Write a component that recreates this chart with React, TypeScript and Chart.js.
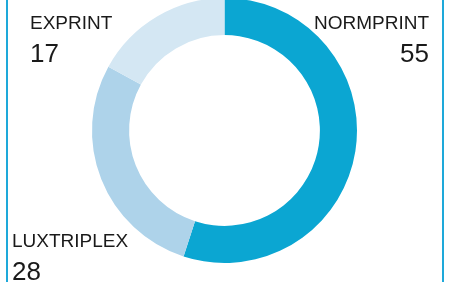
import React, { useEffect, useRef } from "react";
import { Chart, registerables } from "chart.js";

Chart.register(...registerables);

const categories = ["NORMPRINT", "LUXTRIPLEX", "EXPRINT"];
const values = [55, 28, 17];
const colors = ["#0ba6d2", "#aed3ea", "#d4e7f3"];

const labelPlugin = {
  id: "cornerLabels",
  afterDraw(chart: any) {
    const ctx = chart.ctx;
    const area = chart.chartArea;
    const ds = chart.data.datasets[0];
    const labels = chart.data.labels as string[];
    // positions: [x, nameBaseline, align]
    const spots: Record<string, [number, number, CanvasTextAlign]> = {
      NORMPRINT: [area.right - 20, area.top + 31, "right"],
      EXPRINT: [area.left + 30, area.top + 31, "left"],
      LUXTRIPLEX: [area.left + 12, area.top + 249, "left"],
    };
    ctx.save();
    ctx.fillStyle = "#1a1a1a";
    ctx.textBaseline = "alphabetic";
    labels.forEach((name, i) => {
      const s = spots[name];
      if (!s) return;
      ctx.textAlign = s[2];
      ctx.font = "19px 'Liberation Sans', Arial, sans-serif";
      ctx.fillText(name, s[0], s[1]);
      ctx.font = "26px 'Liberation Sans', Arial, sans-serif";
      ctx.fillText(String(ds.data[i]), s[0], s[1] + 33);
    });
    ctx.restore();
  },
};

export default function App() {
  const ref = useRef<HTMLCanvasElement>(null);
  useEffect(() => {
    if (!ref.current) return;
    const chart = new Chart(ref.current, {
      type: "doughnut",
      data: {
        labels: categories,
        datasets: [
          {
            data: values,
            backgroundColor: colors,
            borderWidth: 0,
          },
        ],
      },
      options: {
        animation: false,
        responsive: false,
        cutout: "72%",
        layout: { padding: { right: 9, bottom: 19 } },
        plugins: { legend: { display: false }, tooltip: { enabled: false } },
      },
      plugins: [labelPlugin],
    });
    return () => chart.destroy();
  }, []);
  return (
    <div
      style={{
        position: "fixed",
        left: 0,
        top: 0,
        width: 458,
        height: 282,
        overflow: "hidden",
        background: "#ffffff",
      }}
    >
      <canvas
        ref={ref}
        width={458}
        height={284}
        style={{ position: "absolute", left: 0, top: -2, width: 458, height: 284 }}
      />
      <div style={{ position: "absolute", left: 6, top: 0, width: 2, height: 282, background: "#1ea9da" }} />
      <div style={{ position: "absolute", left: 442, top: 0, width: 2, height: 282, background: "#1ea9da" }} />
    </div>
  );
}
